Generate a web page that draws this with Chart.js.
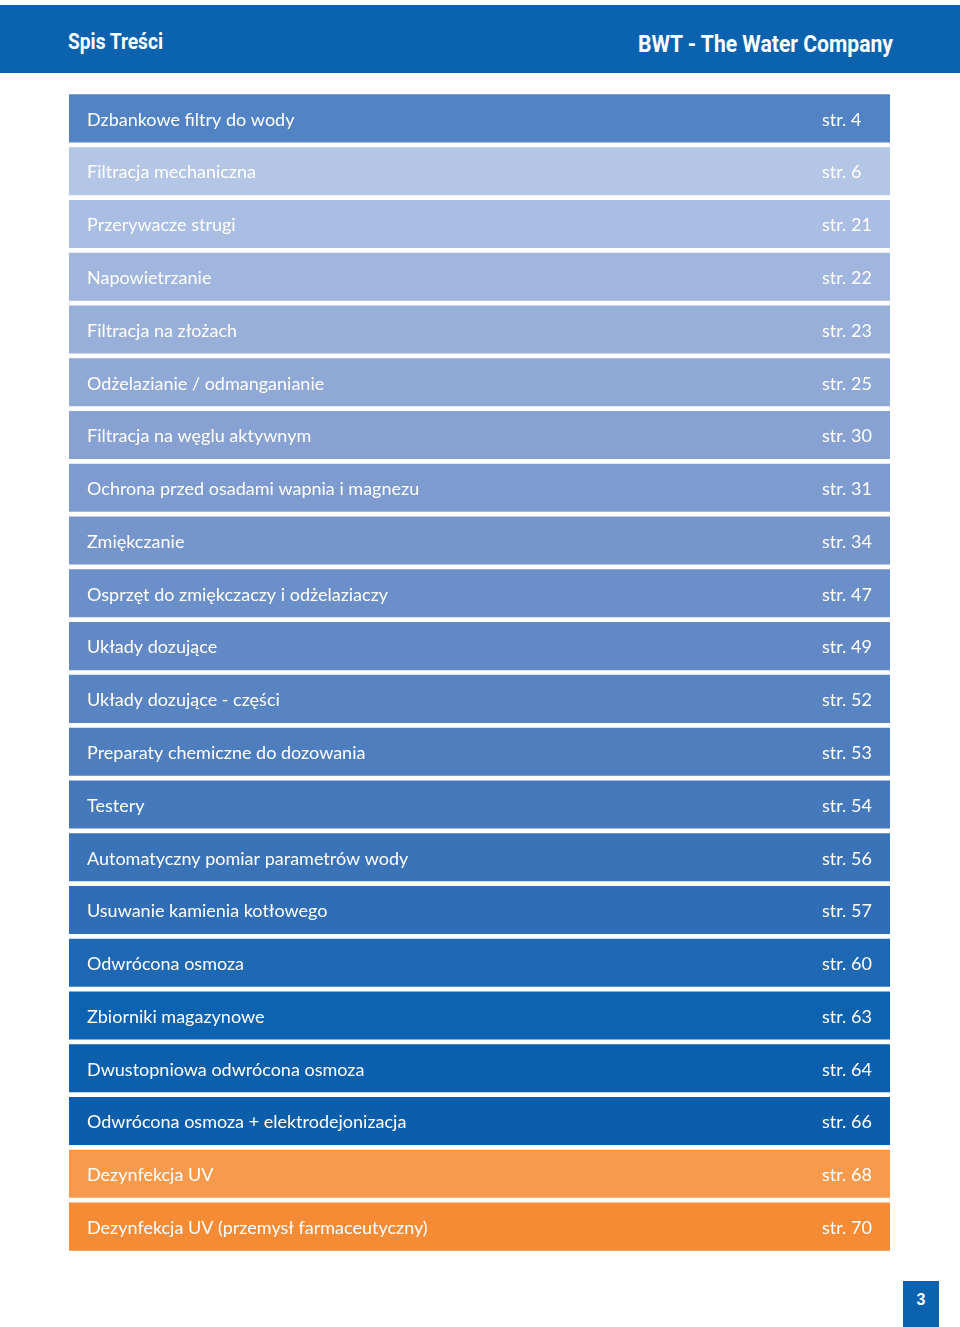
<!DOCTYPE html>
<html lang="pl">
<head>
<meta charset="utf-8">
<script src="https://cdn.jsdelivr.net/npm/chart.js@4/dist/chart.umd.min.js"></script>
<style>
  html,body{margin:0;padding:0;background:#fff;}
  body{width:960px;height:1327px;position:relative;overflow:hidden;font-family:Lato,"Open Sans",sans-serif;}
  #hdr{position:absolute;left:0;top:5px;width:960px;height:68px;background:#0b63b0;}
  #hdrL{position:absolute;left:68px;top:24px;color:#fff;font:bold 22px Roboto,"DejaVu Sans Condensed",sans-serif;transform-origin:left center;white-space:nowrap;}
  #hdrR{position:absolute;right:67px;top:25px;color:#fff;font:bold 24px Roboto,"DejaVu Sans Condensed",sans-serif;transform-origin:right center;white-space:nowrap;}
  #wrap{position:absolute;left:69px;top:92px;width:821px;height:1161px;}
  #pg{position:absolute;left:903px;top:1281px;width:36px;height:46px;background:#0b63b0;color:#fff;font:bold 16px "Liberation Sans","DejaVu Sans",sans-serif;text-align:center;line-height:38px;}
</style>
</head>
<body>
<div id="hdr"><div id="hdrL">Spis Treści</div><div id="hdrR">BWT - The Water Company</div></div>
<div id="wrap"><canvas id="c"></canvas></div>
<div id="pg">3</div>
<script>
const categories = [
  "Dzbankowe filtry do wody",
  "Filtracja mechaniczna",
  "Przerywacze strugi",
  "Napowietrzanie",
  "Filtracja na złożach",
  "Odżelazianie / odmanganianie",
  "Filtracja na węglu aktywnym",
  "Ochrona przed osadami wapnia i magnezu",
  "Zmiękczanie",
  "Osprzęt do zmiękczaczy i odżelaziaczy",
  "Układy dozujące",
  "Układy dozujące - części",
  "Preparaty chemiczne do dozowania",
  "Testery",
  "Automatyczny pomiar parametrów wody",
  "Usuwanie kamienia kotłowego",
  "Odwrócona osmoza",
  "Zbiorniki magazynowe",
  "Dwustopniowa odwrócona osmoza",
  "Odwrócona osmoza + elektrodejonizacja",
  "Dezynfekcja UV",
  "Dezynfekcja UV (przemysł farmaceutyczny)"
];
const pageNumbers = [4, 6, 21, 22, 23, 25, 30, 31, 34, 47, 49, 52, 53, 54, 56, 57, 60, 63, 64, 66, 68, 70];
const rowWidth = [1,1,1,1,1,1,1,1,1,1,1,1,1,1,1,1,1,1,1,1,1,1];
const rowColors = [
  "#5283c4", "#b4c6e6", "#aabde2", "#a1b6de", "#98afda", "#8fa8d6",
  "#86a1d2", "#7d9bcf", "#7595cb", "#6b8fc8", "#6289c5", "#5884c2",
  "#4f7ebf", "#4579bc", "#3a73b8", "#2f6eb6", "#1f68b3", "#0d63b0",
  "#0c5fac", "#0c5daa", "#f89a4c", "#f58b35"
];

function fitWidth(el, target) {
  const w = el.getBoundingClientRect().width;
  el.style.transform = 'scaleX(' + (target / w) + ')';
}
fitWidth(document.getElementById('hdrL'), 95);
fitWidth(document.getElementById('hdrR'), 255);

const textPlugin = {
  id: 'rowText',
  afterDatasetsDraw(chart) {
    const ctx = chart.ctx;
    const meta = chart.getDatasetMeta(0);
    const left = chart.chartArea.left;
    ctx.save();
    ctx.fillStyle = '#ffffff';
    ctx.font = '18px Lato, "Open Sans", sans-serif';
    ctx.textBaseline = 'middle';
    ctx.textAlign = 'left';
    meta.data.forEach((bar, i) => {
      const y = bar.y + 1.5;
      ctx.fillText(categories[i], left + 18, y);
      ctx.fillText('str. ' + pageNumbers[i], left + 753, y);
    });
    ctx.restore();
  }
};

new Chart(document.getElementById('c'), {
  type: 'bar',
  data: {
    labels: categories,
    datasets: [{
      data: rowWidth,
      backgroundColor: rowColors,
      borderWidth: 0,
      barPercentage: 0.91,
      categoryPercentage: 1.0
    }]
  },
  options: {
    indexAxis: 'y',
    responsive: true,
    maintainAspectRatio: false,
    animation: false,
    layout: { padding: 0 },
    plugins: { legend: { display: false }, tooltip: { enabled: false } },
    scales: {
      x: { display: false, min: 0, max: 1 },
      y: { display: false }
    }
  },
  plugins: [textPlugin]
});
</script>
</body>
</html>
